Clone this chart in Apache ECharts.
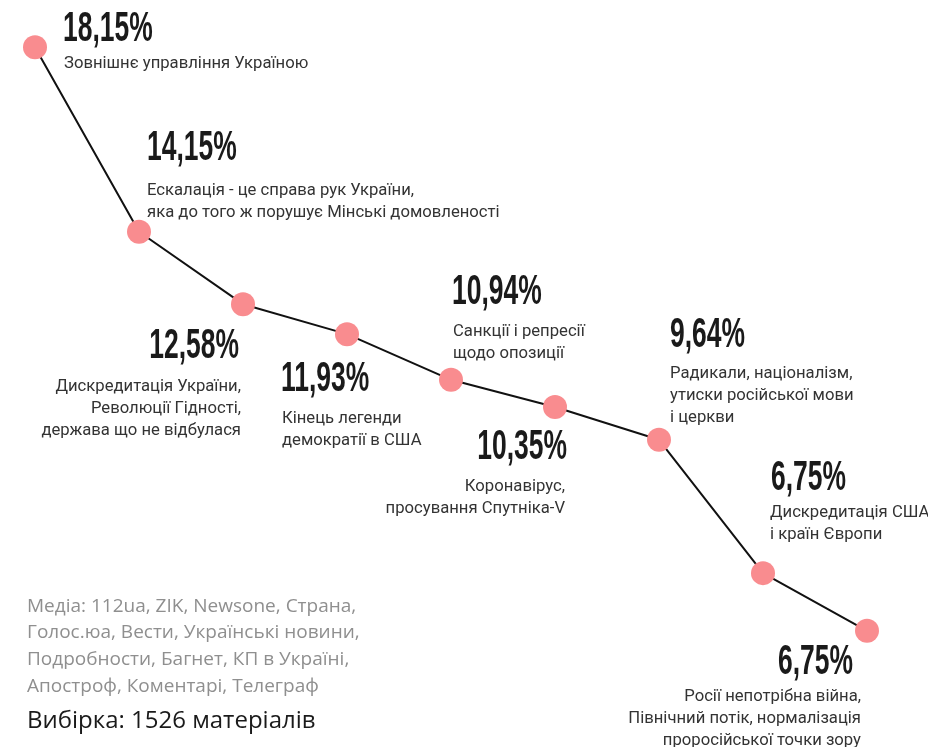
<!DOCTYPE html>
<html>
<head>
<meta charset="utf-8">
<script src="https://cdn.jsdelivr.net/npm/echarts@6/dist/echarts.min.js"></script>
<style>
  html, body { margin: 0; padding: 0; background: #fff; }
  #chart { width: 928px; height: 747px; }
</style>
</head>
<body>
<div id="chart"></div>
<script>
// значення точок (остання точка на малюнку нижче, ніж підпис 6,75%)
const values = [18.15, 14.15, 12.58, 11.93, 10.94, 10.35, 9.64, 6.75, 5.5];
const pctLabels = ["18,15%", "14,15%", "12,58%", "11,93%", "10,94%", "10,35%", "9,64%", "6,75%", "6,75%"];
const descriptions = [
  ["Зовнішнє управління Україною"],
  ["Ескалація - це справа рук України,", "яка до того ж порушує Мінські домовленості"],
  ["Дискредитація України,", "Революції Гідності,", "держава що не відбулася"],
  ["Кінець легенди", "демократії в США"],
  ["Санкції і репресії", "щодо опозиції"],
  ["Коронавірус,", "просування Спутніка-V"],
  ["Радикали, націоналізм,", "утиски російської мови", "і церкви"],
  ["Дискредитація США", "і країн Європи"],
  ["Росії непотрібна війна,", "Північний потік, нормалізація", "проросійської точки зору"],
];
const mediaLines = [
  "Медіа: 112ua, ZIK, Newsone, Страна,",
  "Голос.юа, Вести, Українські новини,",
  "Подробности, Багнет, КП в Україні,",
  "Апостроф, Коментарі, Телеграф",
];
const sampleText = "Вибірка: 1526 матеріалів";

// розміщення підписів відносно центру точки:
// [вирівнювання, dx відсотка, верх відсотка, dx опису, верх опису]
const labelLayout = [
  ["left", 28, -33, 29, 11],
  ["left", 8, -98, 8, -47],
  ["right", -4, 27, -2, 77],
  ["left", -66, 30, -65, 79],
  ["left", 1, -102, 2, -54],
  ["right", 12, 25, 10, 74],
  ["left", 11, -119, 11, -72],
  ["left", 8, -110, 7, -66],
  ["right", -14, 17, -6, 60],
];

const pctFont = "bold 42px 'Liberation Sans', Arial, sans-serif";
const descFont = "17px Roboto, sans-serif";

const chart = echarts.init(document.getElementById("chart"));

function renderLabel(params, api) {
  const i = params.dataIndex;
  const pt = api.coord([api.value(0), api.value(1)]);
  const [align, pdx, ptop, ddx, dtop] = labelLayout[i];
  return {
    type: "group",
    children: [
      {
        type: "text",
        x: pt[0] + pdx,
        y: pt[1] + ptop + 15,
        scaleX: 0.63,
        style: {
          text: pctLabels[i],
          font: pctFont,
          fill: "#1a1a1a",
          align: align,
          verticalAlign: "middle",
        },
      },
      {
        type: "text",
        x: pt[0] + ddx,
        y: pt[1] + dtop - 5,
        scaleX: 0.98,
        style: {
          text: descriptions[i].join("\n"),
          font: descFont,
          lineHeight: 22,
          fill: "#333",
          align: align,
          verticalAlign: "top",
        },
      },
    ],
  };
}

const option = {
  animation: false,
  backgroundColor: "#fff",
  grid: { left: 35, right: 61, top: 8, bottom: 47 },
  xAxis: {
    type: "category",
    data: values.map((_, i) => String(i + 1)),
    boundaryGap: false,
    show: false,
  },
  yAxis: { type: "value", min: 4, max: 19, show: false },
  title: [
    {
      text: mediaLines.join("\n"),
      left: 27,
      top: 593,
      padding: 0,
      textStyle: {
        fontFamily: "'Open Sans', sans-serif",
        fontWeight: "normal",
        fontSize: 19,
        lineHeight: 26.7,
        color: "#8f8f8f",
      },
    },
    {
      text: sampleText,
      left: 27,
      top: 709,
      padding: 0,
      textStyle: {
        fontFamily: "'Open Sans', sans-serif",
        fontWeight: "normal",
        fontSize: 24,
        color: "#1a1a1a",
      },
    },
  ],
  series: [
    {
      type: "line",
      data: values,
      symbol: "circle",
      symbolSize: 24,
      lineStyle: { color: "#111", width: 2 },
      itemStyle: { color: "#f98c8f", borderWidth: 0 },
      emphasis: { disabled: true },
      z: 2,
    },
    {
      type: "custom",
      data: values.map((v, i) => [i, v]),
      renderItem: renderLabel,
      silent: true,
      z: 3,
    },
  ],
};

chart.setOption(option);
</script>
</body>
</html>
